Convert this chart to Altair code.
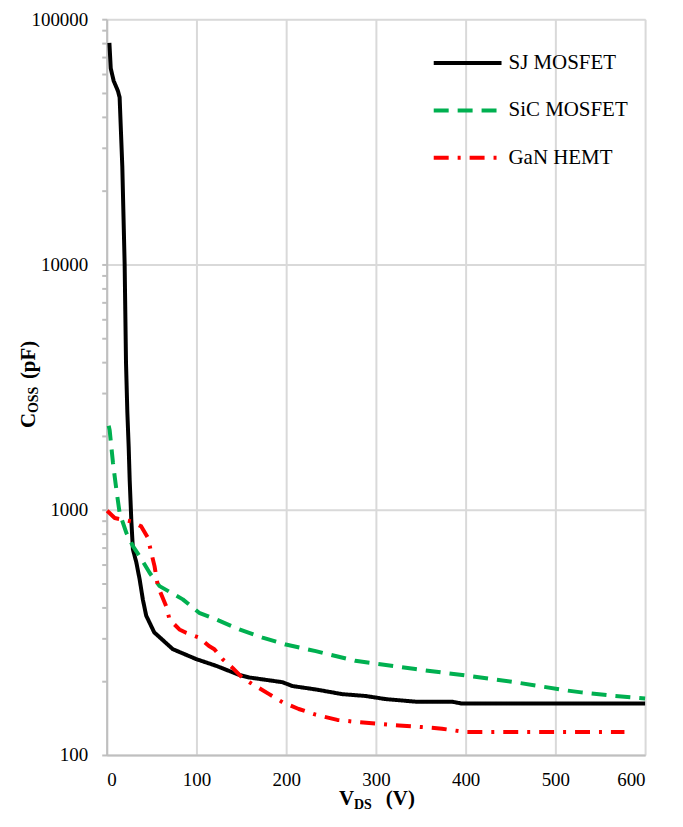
import altair as alt
import pandas as pd

SERIES = ["SJ MOSFET", "SiC MOSFET", "GaN HEMT"]
COLORS = ["#000000", "#00B050", "#FF0000"]
DASHES = [[1, 0], [15, 9], [15, 9, 3, 9]]

SJ_V = [3, 4.5, 7.8, 12.5, 14.4, 17.4, 20, 21.5, 23, 24.5, 25.6, 27.4, 29.2, 33, 36.7, 40.3,
        44, 53, 73.7, 99.7, 121.9, 147.8, 158.9, 195.9, 207, 233, 262.6, 288.5, 310.7, 344,
        384.6, 396, 600]
SJ_C = [80000, 63000, 56000, 51000, 48000, 25000, 10000, 4000, 2500, 1800, 1325, 910, 690, 610,
        520, 430, 370, 316, 270, 246, 231, 212, 207, 198, 191, 185, 177, 174, 169, 165,
        165, 162, 162]

SIC_V = [2.2, 3.3, 7, 10.8, 14.4, 21.9, 29.2, 36.7, 47.8, 58.9, 84.8, 103, 122, 147.8, 173.7,
         199.6, 233, 277, 307, 344, 399.6, 455, 514, 529, 566, 600]
SIC_C = [2200, 2110, 1550, 1205, 970, 804, 710, 646, 553, 488, 431, 380, 357, 325, 301,
         282, 265, 242, 234, 224, 211, 198, 183, 180, 174, 170]

GAN_V = [0.5, 8.9, 27.4, 38.5, 45.9, 49.7, 53.3, 57, 66.3, 70, 81, 88.5, 103, 114, 120, 129,
         140, 151, 159, 181, 196, 214, 233, 257, 281, 325.6, 351, 373.7, 399.6, 455, 577]
GAN_C = [990, 925, 896, 855, 768, 667, 589, 488, 404, 357, 325, 315, 301, 278, 270, 246,
         227, 207, 198, 177, 164, 154, 146, 139, 136, 132, 130, 128, 124, 124, 124]

X_TICKS = [0, 100, 200, 300, 400, 500, 600]
Y_MAJOR = [100, 1000, 10000, 100000]
Y_TICKS = [m * d for d in [100, 1000, 10000] for m in range(1, 10)] + [100000]

FONT = "Liberation Serif"

rows = []
for name, vs, cs in [(SERIES[0], SJ_V, SJ_C), (SERIES[1], SIC_V, SIC_C), (SERIES[2], GAN_V, GAN_C)]:
    for v, c in zip(vs, cs):
        rows.append({"series": name, "V": v, "C": c})
df = pd.DataFrame(rows)

major_test = "indexof([100,1000,10000,100000], datum.value) >= 0"

lines = alt.Chart(df).mark_line(strokeWidth=4, strokeJoin="round").encode(
    x=alt.X("V:Q", scale=alt.Scale(domain=[0, 600], nice=False),
            axis=alt.Axis(values=X_TICKS, title=None, ticks=False, grid=True,
                          gridColor="#d9d9d9", gridWidth=2, domainColor="#bfbfbf",
                          domainWidth=2, labelFont=FONT, labelFontSize=19,
                          labelColor="#000", labelPadding=16)),
    y=alt.Y("C:Q", scale=alt.Scale(type="log", domain=[100, 100000], nice=False),
            axis=alt.Axis(values=Y_TICKS, title=None, grid=True,
                          gridColor="#d9d9d9", gridWidth=2,
                          gridOpacity={"condition": {"test": major_test, "value": 1}, "value": 0},
                          labelExpr=f"{major_test} ? format(datum.value, 'd') : ''",
                          tickColor="#bfbfbf", tickWidth=2, tickSize=5,
                          domainColor="#bfbfbf", domainWidth=2, labelFont=FONT,
                          labelFontSize=19, labelColor="#000", labelPadding=14)),
    color=alt.Color("series:N", scale=alt.Scale(domain=SERIES, range=COLORS), legend=None),
    strokeDash=alt.StrokeDash("series:N", scale=alt.Scale(domain=SERIES, range=DASHES), legend=None),
)

one = pd.DataFrame({"t": [""]})


def txt(s, x, y, size, bold=True, angle=0, baseline="alphabetic"):
    return alt.Chart(one).mark_text(
        text=s, font=FONT, fontSize=size, fontWeight="bold" if bold else "normal",
        align="left", baseline=baseline, angle=angle, color="#000"
    ).encode(x=alt.value(x), y=alt.value(y))


layers = [lines]
# Y title: C_OSS (pF)
layers.append(txt("C", -72, 410, 21, angle=270))
layers.append(txt("OSS", -69, 395, 14, angle=270))
layers.append(txt("(pF)", -72, 361, 21, angle=270))
# X title: V_DS (V)
layers.append(txt("V", 233, 788, 21))
layers.append(txt("DS", 248, 792, 14))
layers.append(txt("(V)", 280, 788, 21))

# Legend
for i, (name, col, dash) in enumerate(zip(SERIES, COLORS, DASHES)):
    ly = 44 + i * 47.5
    layers.append(alt.Chart(one).mark_rule(color=col, strokeWidth=4, strokeDash=dash).encode(
        x=alt.value(328), x2=alt.value(396), y=alt.value(ly)))
    layers.append(txt(name, 403, ly, 21, bold=False, baseline="middle"))

chart = alt.layer(*layers).properties(
    width=540, height=738,
    autosize=alt.AutoSizeParams(type="none"),
    padding={"left": 99, "top": 10, "right": 30, "bottom": 65},
).configure_view(stroke=None).configure(background="white")

chart.save("out.html", embed_options={"renderer": "svg", "actions": False})
